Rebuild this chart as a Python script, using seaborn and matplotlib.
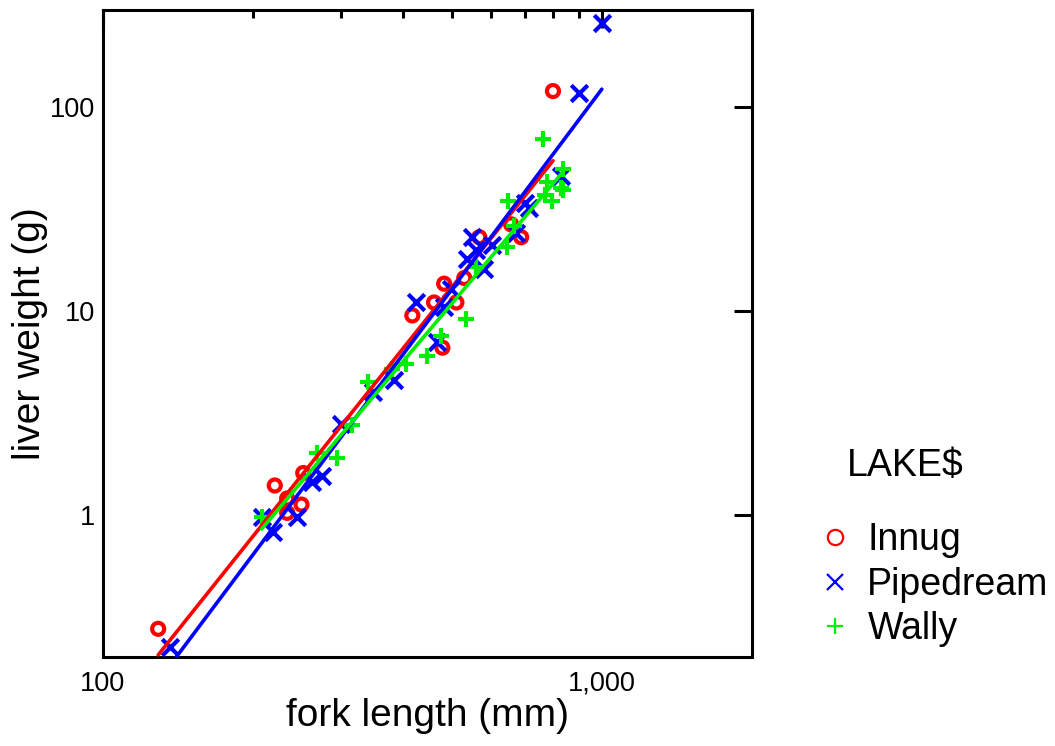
import numpy as np
import pandas as pd
import matplotlib
matplotlib.use("Agg")
import matplotlib.pyplot as plt
from matplotlib.lines import Line2D
from matplotlib.ticker import FixedLocator, FixedFormatter, NullLocator
import seaborn as sns

# ---- data (fork length mm, liver weight g) ----
innug_len = [129, 221, 234, 234, 250, 252, 417, 461, 479, 483, 511, 530, 568, 658, 689, 798]
innug_wt = [0.275, 1.39, 1.2, 1.02, 1.12, 1.6, 9.5, 11.0, 6.6, 13.6, 11.0, 14.5, 23, 26.6, 23, 120]

pipe_len = [136, 208, 219, 245, 263, 275, 300, 347, 384, 425, 468, 483, 499, 537,
            550, 560, 581, 603, 674, 702, 714, 829, 900, 1000]
pipe_wt = [0.225, 0.97, 0.82, 0.97, 1.44, 1.54, 2.77, 4.0, 4.6, 11, 7.0, 10.4, 12.8, 18,
           23, 20, 16, 21, 24, 34, 32, 46, 118, 258]

wally_len = [208, 268, 295, 316, 340, 380, 405, 447, 476, 535, 560, 645, 649, 667,
             762, 771, 776, 794, 829, 836, 836]
wally_wt = [0.97, 2.0, 1.9, 2.75, 4.5, 5.2, 5.5, 6.0, 7.5, 9.1, 16.4, 20.5, 34.5, 26,
            70, 37, 43, 34.5, 40, 50, 39]

lakes = ["Innug", "Pipedream", "Wally"]
x_ticks = [100, 1000]
x_tick_labels = ["100", "1,000"]
y_ticks = [1, 10, 100]
y_tick_labels = ["1", "10", "100"]

df = pd.concat([
    pd.DataFrame({"len": innug_len, "wt": innug_wt, "lake": "Innug"}),
    pd.DataFrame({"len": pipe_len, "wt": pipe_wt, "lake": "Pipedream"}),
    pd.DataFrame({"len": wally_len, "wt": wally_wt, "lake": "Wally"}),
], ignore_index=True)

colors = {"Innug": "#ff0000", "Pipedream": "#0000ff", "Wally": "#00ee00"}
markers = {"Innug": "o", "Pipedream": "x", "Wally": "+"}
sizes = {"Innug": 75, "Pipedream": 140, "Wally": 120}

sns.set_theme(style="white")
plt.rcParams["font.family"] = ["Liberation Sans", "DejaVu Sans"]
plt.rcParams["text.color"] = "black"
plt.rcParams["axes.labelcolor"] = "black"
plt.rcParams["xtick.color"] = "black"
plt.rcParams["ytick.color"] = "black"

fig = plt.figure(figsize=(10.55, 7.46), dpi=100)
ax = fig.add_axes([103 / 1055, 89 / 746, 649 / 1055, 647 / 746])
ax.set_xscale("log")
ax.set_yscale("log")

for lake in lakes:
    sub = df[df["lake"] == lake]
    if markers[lake] == "o":
        sns.scatterplot(data=sub, x="len", y="wt", ax=ax, marker="o", s=sizes[lake],
                        facecolor="none", edgecolor=colors[lake], linewidth=3,
                        legend=False, zorder=3)
    else:
        sns.scatterplot(data=sub, x="len", y="wt", ax=ax, marker=markers[lake],
                        s=sizes[lake], color=colors[lake], linewidth=3,
                        legend=False, zorder=3)
    # log-log least squares fit over the group's range
    lx = np.log10(sub["len"].values)
    ly = np.log10(sub["wt"].values)
    b, a = np.polyfit(lx, ly, 1)
    xs = np.array([lx.min(), lx.max()])
    fit = pd.DataFrame({"len": 10 ** xs, "wt": 10 ** (a + b * xs)})
    sns.lineplot(data=fit, x="len", y="wt", ax=ax, color=colors[lake], linewidth=2.6,
                 legend=False, zorder=4)

ax.set_xlim(100, 2000)
ax.set_ylim(0.2, 300)

ax.xaxis.set_major_locator(FixedLocator(x_ticks))
ax.xaxis.set_major_formatter(FixedFormatter(x_tick_labels))
ax.xaxis.set_minor_locator(FixedLocator([200, 300, 400, 500, 600, 700, 800, 900]))
ax.yaxis.set_major_locator(FixedLocator(y_ticks))
ax.yaxis.set_major_formatter(FixedFormatter(y_tick_labels))
ax.yaxis.set_minor_locator(NullLocator())

ax.tick_params(which="major", direction="in", length=13, width=2.2, color="black",
               top=True, right=True, labelsize=19.5, labelcolor="black")
ax.tick_params(which="minor", direction="in", length=6, width=2.2, color="black",
               top=True, right=False, left=False)
ax.tick_params(axis="x", which="major", pad=10)
ax.tick_params(axis="y", which="major", pad=6)

for sp in ax.spines.values():
    sp.set_visible(True)
    sp.set_linewidth(2.2)
    sp.set_color("black")

ax.set_xlabel("fork length (mm)", fontsize=28, color="black")
ax.set_ylabel("liver weight (g)", fontsize=28, color="black")
ax.xaxis.set_label_coords(0.5, -0.063)
ax.yaxis.set_label_coords(-0.085, 0.5)
ax.grid(False)

handles = [Line2D([], [], linestyle="none", marker=markers[l], markersize=11,
                  markeredgewidth=1.6, markerfacecolor="none",
                  markeredgecolor=colors[l], color=colors[l]) for l in lakes]
leg = fig.legend(handles, lakes, loc="upper left",
                 bbox_to_anchor=(816 / 1055, 1 - 522 / 746),
                 frameon=False, fontsize=27, borderpad=0, borderaxespad=0,
                 handlelength=1.0, handletextpad=0.37, labelspacing=0.23,
                 labelcolor="black")
fig.text(847 / 1055, 1 - 466 / 746, "LAKE$", fontsize=27, va="center", ha="left",
         color="black")

fig.savefig("out.png", dpi=100)
